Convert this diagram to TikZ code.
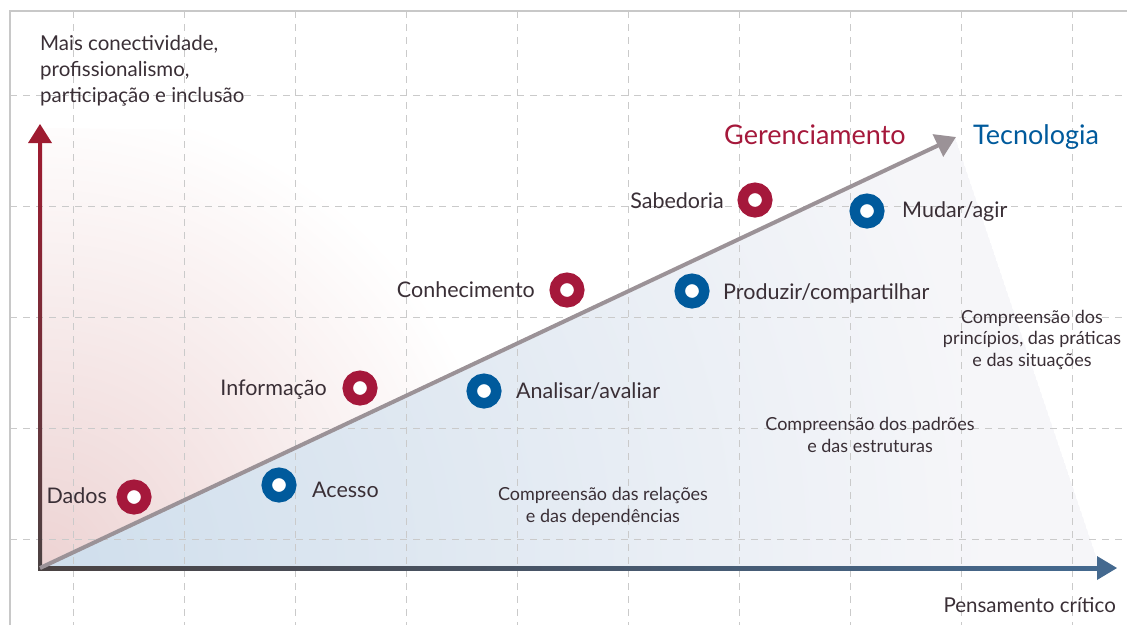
\documentclass[tikz,border=0pt]{standalone}
\usepackage{fontspec}
\setmainfont{Lato}
\usetikzlibrary{arrows.meta}
\definecolor{redc}{HTML}{A5183B}
\definecolor{bluec}{HTML}{005A9C}
\definecolor{txt}{HTML}{3A2F36}
\definecolor{gridc}{HTML}{CACACA}
\definecolor{framec}{HTML}{C8C8C8}
\definecolor{diagc}{HTML}{9B9297}
\definecolor{axdark}{HTML}{4A4242}
\definecolor{axred}{HTML}{9E1B30}
\definecolor{axblue}{HTML}{44698F}
\definecolor{pinkc}{HTML}{EDD3D3}
\definecolor{bluel}{HTML}{CFDEEC}
\definecolor{lavl}{HTML}{F6F6F9}
\begin{document}
\begin{tikzpicture}[x=1pt,y=-1pt,
  gridline/.style={gridc, line width=1pt, dash pattern=on 7pt off 6pt},
  ring/.style={circle, minimum size=24.5pt, inner sep=0pt, line width=10.5pt, fill=white},
  redring/.style={ring, draw=redc},
  bluering/.style={ring, draw=bluec},
  lbl/.style={text=txt, inner sep=0pt, font=\fontsize{21.5}{26}\selectfont},
  small/.style={text=txt, inner sep=0pt, align=center, font=\fontsize{18}{21.5}\selectfont},
  head/.style={inner sep=0pt, font=\fontsize{27}{30}\selectfont}]
\useasboundingbox (0,0) rectangle (1127,625);
\clip (0,0) rectangle (1127,625);
% background shading
\coordinate (O) at (40,568);
\coordinate (dtip) at (956,137);
\begin{scope}
  \clip (40,568) -- (40,128) -- (955,137) -- cycle;
  \shade[inner color=pinkc, outer color=white] (O) circle (470);
\end{scope}
\begin{scope}
  \clip (40,568) -- (955,137) -- (1100,568) -- cycle;
  \fill[lavl] (40,568) -- (955,137) -- (1100,568) -- cycle;
  \shade[inner color=bluel, outer color=lavl] (O) circle (950);
\end{scope}
% grid
\foreach \x in {73,184,...,1072} \draw[gridline] (\x,11) -- (\x,625);
\foreach \y in {95,206,317,428,539} \draw[gridline] (10,\y) -- (1127,\y);
\draw[framec, line width=1.5pt] (10,625) -- (10,11) -- (1127,11);
% axes
\shade[bottom color=axdark, top color=axred] (38,570) rectangle (42,141);
\fill[axred] (40,124) -- (52,143) -- (28,143) -- cycle;
\shade[left color=axdark, right color=axblue] (38,566) rectangle (1099,570);
\fill[axblue] (1117,568) -- (1097,556) -- (1097,580) -- cycle;
\draw[diagc, line width=4pt, -{Triangle[length=20pt,width=24pt]}] (O) -- (dtip);
% rings
\node[redring] (dados) at (134,497) {};
\node[redring] (info) at (360,388) {};
\node[redring] (conh) at (567,290) {};
\node[redring] (sab) at (755,200) {};
\node[bluering] (aces) at (279,485) {};
\node[bluering] (anal) at (484,391) {};
\node[bluering] (prod) at (692,291) {};
\node[bluering] (mud) at (867,211) {};
% labels
\node[lbl, anchor=base east] (tdados) at (107,503) {Dados};
\node[lbl, anchor=base east] (tinfo) at (327,395) {Informação};
\node[lbl, anchor=base east] (tconh) at (535,297) {Conhecimento};
\node[lbl, anchor=base east] (tsab) at (724,208) {Sabedoria};
\node[lbl, anchor=base west] (taces) at (312,497) {Acesso};
\node[lbl, anchor=base west] (tanal) at (516,398) {Analisar/avaliar};
\node[lbl, anchor=base west] (tprod) at (723,299) {Produzir/compartilhar};
\node[lbl, anchor=base west] (tmud) at (902,217) {Mudar/agir};
\node[head, text=redc, anchor=base west] (ger) at (724,144) {Gerenciamento};
\node[head, text=bluec, anchor=base west] (tec) at (973,144) {Tecnologia};
\node[lbl, anchor=base west, align=left, font=\fontsize{20.5}{26}\selectfont] (ylab) at (40,102) {Mais conectividade,\\profissionalismo,\\participação e inclusão};
\node[lbl, anchor=base east, font=\fontsize{20.5}{24}\selectfont] (xlab) at (1116,612) {Pensamento crítico};
\node[small, anchor=base] (c1) at (603,522) {Compreensão das relações\\e das dependências};
\node[small, anchor=base] (c2) at (870,452) {Compreensão dos padrões\\e das estruturas};
\node[small, anchor=base] (c3) at (1032,366) {Compreensão dos\\princípios, das práticas\\e das situações};
\end{tikzpicture}
\end{document}
